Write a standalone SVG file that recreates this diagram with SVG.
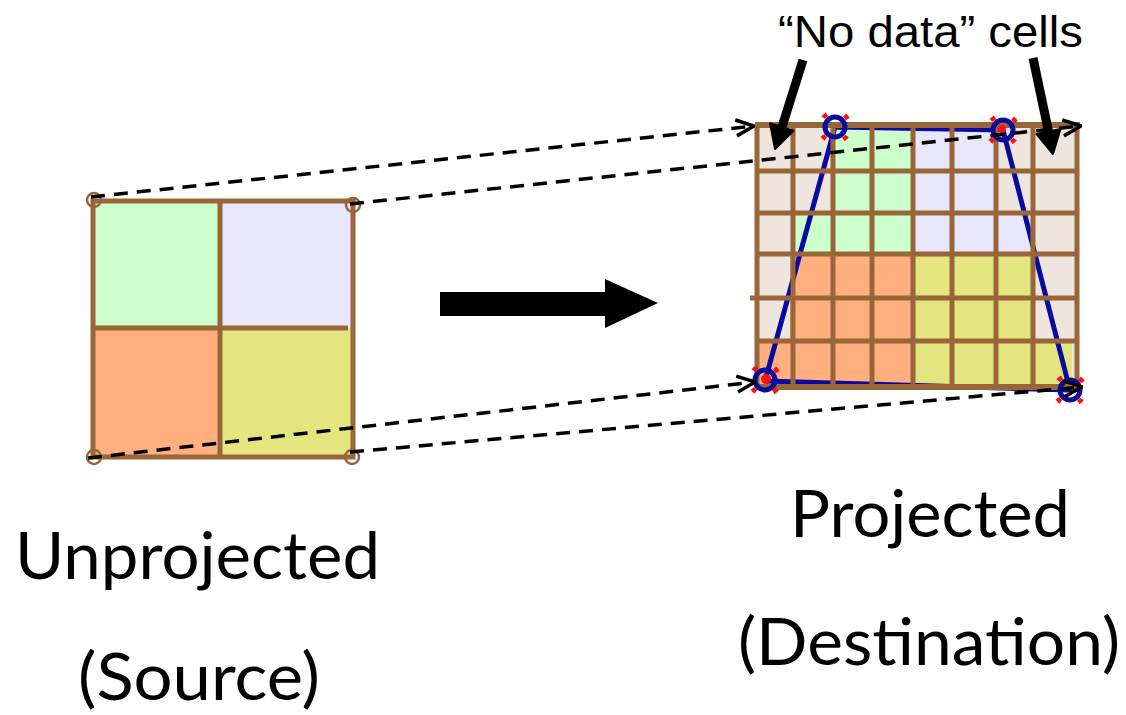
<svg xmlns="http://www.w3.org/2000/svg" width="1126" height="715" viewBox="0 0 1126 715">
<style>
.brown{stroke:#99663A;fill:none}
.lbl{font-family:Lato,"Open Sans",sans-serif;font-size:66px;fill:#000}
.dash{stroke:#000;stroke-width:3.5;fill:none;stroke-dasharray:14 9}
.g{fill:#CCFFCC}.l{fill:#E8E6FA}.o{fill:#FFB07E}.y{fill:#E3E57E}.b{fill:#EEE5DF}
.vtx{fill:none;stroke:#0A0A9E;stroke-width:5}
.red{fill:none;stroke:#FF1010;stroke-width:4.5;stroke-dasharray:5 18.6;stroke-dashoffset:14}
</style>
<defs>
<marker id="chev" viewBox="0 0 22 22" refX="21" refY="11" markerWidth="22" markerHeight="22" markerUnits="userSpaceOnUse" orient="auto">
<path d="M3,3 L21,11 L3,19" fill="none" stroke="#000" stroke-width="3.5" stroke-dasharray="none"/>
</marker>
</defs>
<g id="source">
<rect class="g" x="93" y="201" width="127" height="127"/>
<rect class="l" x="220" y="201" width="133" height="127"/>
<rect class="o" x="93" y="328" width="127" height="129"/>
<rect class="y" x="220" y="328" width="133" height="129"/>
<rect class="brown" x="93" y="201" width="260" height="256" stroke-width="5"/>
<line class="brown" x1="220" y1="201" x2="220" y2="457" stroke-width="5"/>
<line class="brown" x1="93" y1="328" x2="348" y2="328" stroke-width="5"/>
<circle class="brown" cx="94" cy="200" r="7" stroke-width="2.5"/>
<circle class="brown" cx="353" cy="205" r="7" stroke-width="2.5"/>
<circle class="brown" cx="94" cy="457" r="7" stroke-width="2.5"/>
<circle class="brown" cx="352" cy="457" r="7" stroke-width="2.5"/>
</g>
<g id="destination">
<rect class="b" x="755" y="125" width="322" height="262"/>
<rect class="g" x="833" y="128" width="80" height="126"/>
<rect class="g" x="795" y="213" width="38" height="41"/>
<rect class="l" x="913" y="128" width="83" height="126"/>
<rect class="l" x="996" y="213" width="32" height="41"/>
<rect class="o" x="790" y="254" width="123" height="133"/>
<rect class="o" x="759" y="341" width="31" height="46"/>
<rect class="y" x="913" y="254" width="120" height="133"/>
<rect class="y" x="1033" y="341" width="39" height="46"/>
<polygon points="765,381 835,127 1003,130 1070,390" fill="none" stroke="#0A0A9E" stroke-width="5" stroke-linejoin="round"/>
<g class="brown" stroke-width="5">
<line x1="757" y1="125" x2="757" y2="387"/>
<line x1="793" y1="125" x2="793" y2="387"/>
<line x1="833" y1="125" x2="833" y2="387"/>
<line x1="872" y1="125" x2="872" y2="387"/>
<line x1="913" y1="125" x2="913" y2="387"/>
<line x1="952" y1="125" x2="952" y2="387"/>
<line x1="996" y1="125" x2="996" y2="387"/>
<line x1="1033" y1="125" x2="1033" y2="387"/>
<line x1="1077" y1="125" x2="1077" y2="387"/>
<line x1="758" y1="171" x2="1075" y2="171"/>
<line x1="758" y1="213" x2="1075" y2="213"/>
<line x1="758" y1="254" x2="1075" y2="254"/>
<line x1="750" y1="298" x2="1077" y2="298"/>
<line x1="758" y1="341" x2="1075" y2="341"/>
<line x1="755" y1="125" x2="1080" y2="125" stroke-width="6"/>
<line x1="755" y1="387" x2="1078" y2="387" stroke-width="6"/>
</g>
<circle class="vtx" cx="835" cy="127" r="10"/>
<circle class="vtx" cx="1003" cy="130" r="10"/>
<circle class="vtx" cx="765" cy="380" r="10"/>
<circle class="vtx" cx="1070" cy="390" r="10"/>
<circle class="red" cx="835" cy="127" r="15"/>
<circle class="red" cx="1003" cy="130" r="15"/>
<circle class="red" cx="765" cy="380" r="15"/>
<circle class="red" cx="1070" cy="390" r="15"/>
<circle cx="1002" cy="129" r="4" fill="#FF1010"/>
<circle cx="766" cy="379" r="5" fill="#FF1010"/>
</g>
<g id="connectors">
<line class="dash" x1="91" y1="197" x2="754" y2="126" marker-end="url(#chev)"/>
<line class="dash" x1="350" y1="204" x2="1081" y2="126" marker-end="url(#chev)"/>
<line class="dash" x1="88" y1="458" x2="755" y2="382" marker-end="url(#chev)"/>
<line class="dash" x1="350" y1="452" x2="1082" y2="387" marker-end="url(#chev)"/>
<polygon points="440,292 605,292 605,279 658,303 605,328 605,316 440,316" fill="#000"/>
<line x1="803" y1="60" x2="782" y2="127" stroke="#000" stroke-width="9"/>
<polygon points="775,149 793.5,130.7 770,123.3" fill="#000" stroke="#000" stroke-width="2" stroke-linejoin="round"/>
<line x1="1033" y1="58" x2="1048.5" y2="131.5" stroke="#000" stroke-width="9"/>
<polygon points="1053,154 1060.5,129 1036.5,134" fill="#000" stroke="#000" stroke-width="2" stroke-linejoin="round"/>
</g>
<g id="labels">
<text x="778" y="47" font-family="'Liberation Sans',Arial,sans-serif" font-size="45" textLength="305" lengthAdjust="spacingAndGlyphs">“No data” cells</text>
<text class="lbl" x="15" y="579" textLength="365" lengthAdjust="spacingAndGlyphs">Unprojected</text>
<text class="lbl" x="78" y="700" textLength="242" lengthAdjust="spacingAndGlyphs">(Source)</text>
<text class="lbl" x="790" y="537" textLength="280" lengthAdjust="spacingAndGlyphs">Projected</text>
<text class="lbl" x="738" y="665" textLength="382" lengthAdjust="spacingAndGlyphs">(Destination)</text>
</g>
</svg>
